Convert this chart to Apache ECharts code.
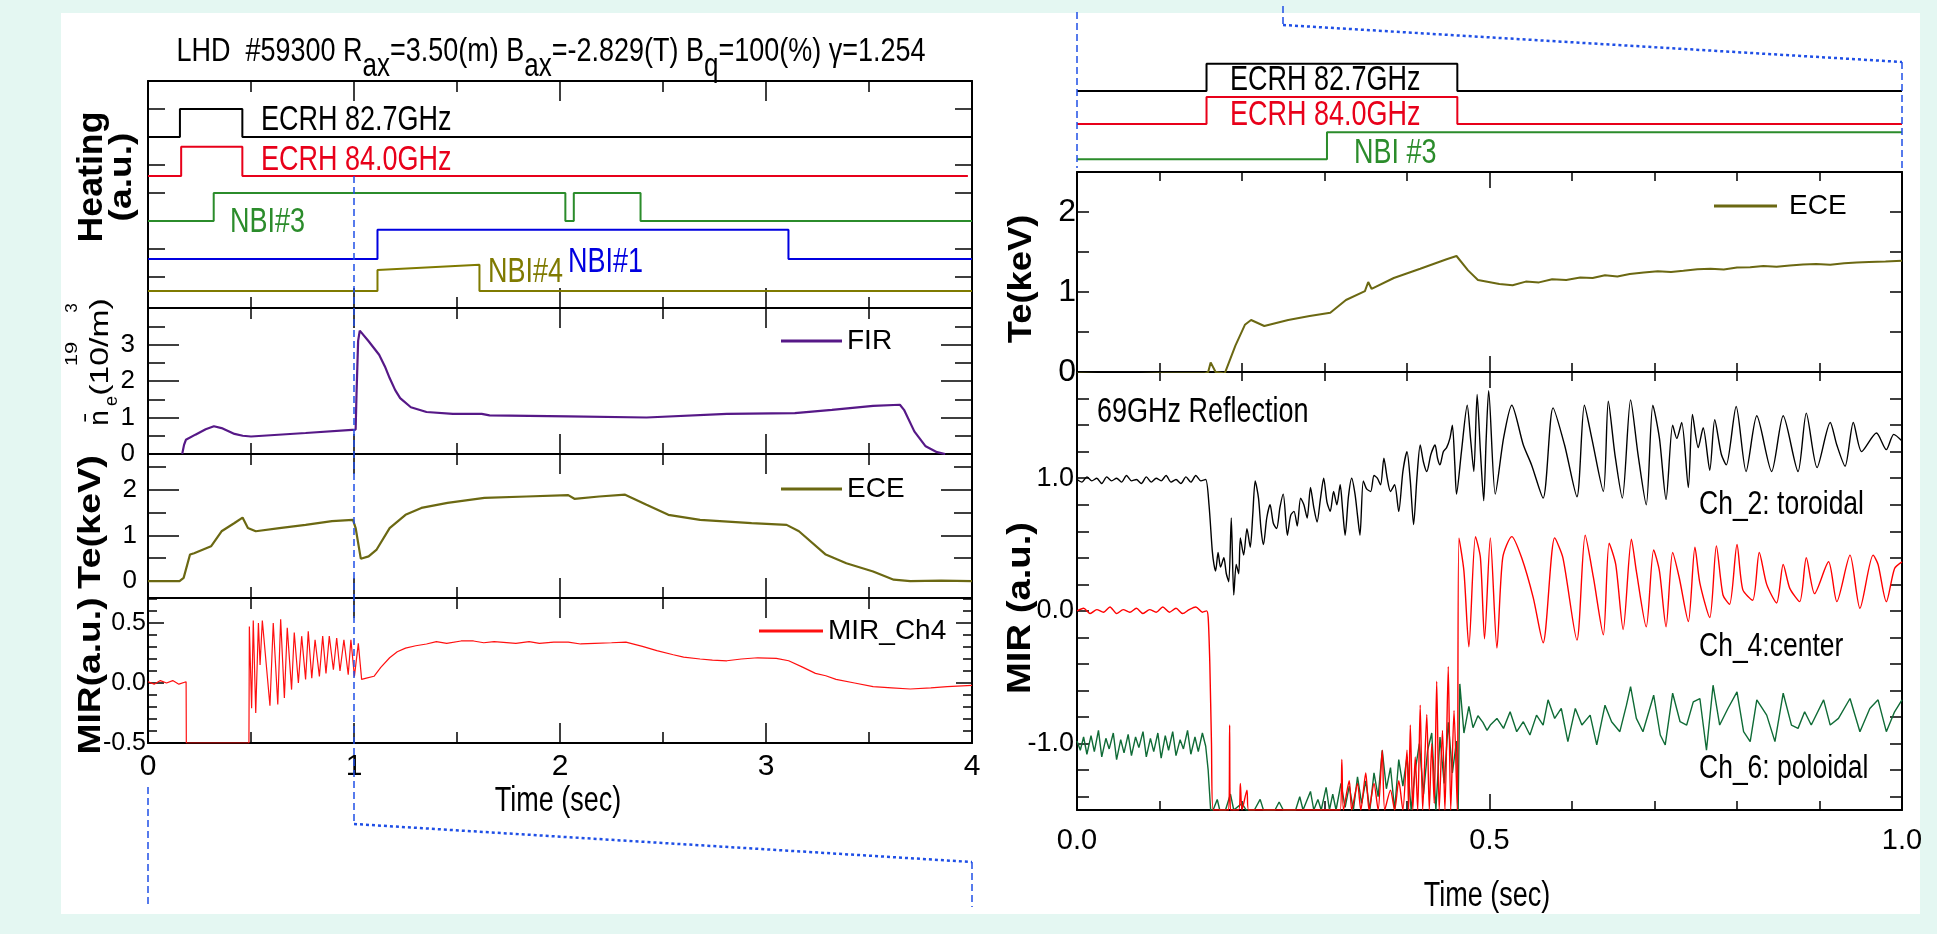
<!DOCTYPE html>
<html>
<head>
<meta charset="utf-8">
<title>LHD #59300</title>
<script src="https://cdn.jsdelivr.net/npm/echarts@6/dist/echarts.min.js"></script>
<style>
  html, body { margin: 0; padding: 0; background: #e4f7f2; }
  #chart { width: 1937px; height: 934px; }
</style>
</head>
<body>
<div id="chart"></div>
<script>
// ---- heating waveforms, left (t in s, level in a.u. offsets) ----
const ecrh827L = [[0, 6.0], [0.155, 6.0], [0.155, 7.0], [0.458, 7.0], [0.458, 6.0], [4, 6.0]]
const ecrh840L = [[0, 4.61], [0.161, 4.61], [0.161, 5.65], [0.458, 5.65], [0.458, 4.61], [3.98, 4.61]]
const nbi3L = [[0, 3.0], [0.319, 3.0], [0.319, 4.0], [2.026, 4.0], [2.026, 3.0], [2.067, 3.0], [2.067, 4.0], [2.391, 4.0], [2.391, 3.0], [4, 3.0]]
const nbi1L = [[0, 1.65], [1.114, 1.65], [1.114, 2.69], [3.109, 2.69], [3.109, 1.65], [4, 1.65]]
const nbi4L = [[0, 0.51], [1.114, 0.51], [1.114, 1.26], [1.609, 1.44], [1.609, 0.51], [4, 0.51]]

// ---- heating waveforms, right (zoomed 0..1 s) ----
const ecrh827R = [[0, 3.0], [0.157, 3.0], [0.157, 4.01], [0.461, 4.01], [0.461, 3.0], [1, 3.0]]
const ecrh840R = [[0, 1.78], [0.157, 1.78], [0.157, 2.78], [0.461, 2.78], [0.461, 1.78], [1, 1.78]]
const nbi3R = [[0, 0.47], [0.303, 0.47], [0.303, 1.47], [1, 1.47]]

// ---- line density FIR (10^19 m^-3) ----
const fir = [[0.166, 0], [0.175, 0.25], [0.184, 0.39], [0.23, 0.53], [0.28, 0.68], [0.32, 0.76], [0.357, 0.71],
  [0.42, 0.55], [0.46, 0.5], [0.5, 0.48], [0.765, 0.575], [1.008, 0.67], [1.012, 1.6], [1.02, 3.1], [1.028, 3.38],
  [1.071, 3.09], [1.122, 2.72], [1.15, 2.4], [1.173, 2.08], [1.2, 1.75], [1.224, 1.53], [1.276, 1.28], [1.352, 1.15],
  [1.48, 1.1], [1.62, 1.1], [1.658, 1.06], [2.04, 1.03], [2.42, 1.0], [2.81, 1.1], [3.14, 1.12], [3.32, 1.21],
  [3.52, 1.32], [3.65, 1.35], [3.67, 1.21], [3.72, 0.62], [3.775, 0.21], [3.83, 0.05], [3.87, 0]]

// ---- ECE Te (keV), full shot ----
const eceL = [[0, 0], [0.153, 0], [0.173, 0.07], [0.204, 0.58], [0.224, 0.61], [0.306, 0.76], [0.357, 1.09],
  [0.42, 1.27], [0.459, 1.39], [0.485, 1.16], [0.523, 1.09], [0.638, 1.16], [0.765, 1.23], [0.893, 1.31],
  [0.995, 1.34], [1.008, 1.16], [1.033, 0.49], [1.071, 0.54], [1.11, 0.69], [1.173, 1.16], [1.25, 1.45],
  [1.327, 1.6], [1.454, 1.71], [1.633, 1.82], [1.837, 1.85], [2.04, 1.88], [2.07, 1.8], [2.19, 1.85],
  [2.316, 1.89], [2.42, 1.67], [2.526, 1.45], [2.68, 1.34], [2.93, 1.27], [3.1, 1.23], [3.16, 1.09],
  [3.29, 0.58], [3.39, 0.39], [3.52, 0.21], [3.62, 0.03], [3.7, 0], [3.85, 0.01], [4, 0]]

// ---- MIR channel 4, full shot ----
const mirL = [[0, 0.01], [0.03, -0.01], [0.06, 0.02], [0.09, 0.0], [0.12, 0.02], [0.15, -0.01], [0.185, 0.01],
  [0.186, -0.5], [0.49, -0.5], [0.492, 0.47], [0.503, -0.21], [0.511, 0.52], [0.523, -0.25], [0.536, 0.5],
  [0.544, 0.15], [0.555, 0.52], [0.592, -0.19], [0.608, 0.5], [0.63, -0.18], [0.644, 0.53], [0.662, -0.125],
  [0.676, 0.46], [0.697, -0.055], [0.71, 0.42], [0.73, 0.0], [0.746, 0.39], [0.765, 0.03], [0.778, 0.43],
  [0.795, 0.04], [0.811, 0.36], [0.832, 0.055], [0.848, 0.39], [0.864, 0.08], [0.88, 0.39], [0.9, 0.11],
  [0.916, 0.375], [0.932, 0.1], [0.951, 0.36], [0.972, 0.07], [0.985, 0.36], [1.002, 0.055], [1.021, 0.33],
  [1.037, 0.03], [1.06, 0.04], [1.097, 0.056], [1.13, 0.13], [1.173, 0.21], [1.21, 0.26], [1.25, 0.29],
  [1.3, 0.31], [1.352, 0.325], [1.4, 0.345], [1.45, 0.33], [1.52, 0.35], [1.58, 0.35], [1.63, 0.335],
  [1.68, 0.345], [1.786, 0.33], [1.85, 0.345], [1.9, 0.33], [1.97, 0.34], [2.04, 0.34], [2.1, 0.325],
  [2.168, 0.33], [2.25, 0.335], [2.32, 0.34], [2.4, 0.305], [2.47, 0.27], [2.55, 0.235], [2.6, 0.215],
  [2.68, 0.2], [2.74, 0.19], [2.81, 0.185], [2.88, 0.2], [2.96, 0.21], [3.05, 0.205], [3.11, 0.185],
  [3.18, 0.13], [3.24, 0.08], [3.29, 0.06], [3.34, 0.03], [3.43, 0], [3.52, -0.03], [3.61, -0.04],
  [3.7, -0.05], [3.8, -0.04], [3.88, -0.03], [4, -0.02]]

// ---- zoomed ECE Te (keV), 0..1 s ----
const eceR = [[0, -0.02], [0.05, -0.03], [0.1, -0.02], [0.155, -0.02], [0.159, 0], [0.162, 0.12], [0.168, 0],
  [0.179, -0.02], [0.192, 0.33], [0.2035, 0.59], [0.211, 0.65], [0.227, 0.575], [0.256, 0.65], [0.282, 0.7],
  [0.307, 0.74], [0.326, 0.9], [0.349, 1.01], [0.353, 1.125], [0.357, 1.04], [0.384, 1.175], [0.416, 1.29],
  [0.448, 1.41], [0.46, 1.45], [0.474, 1.27], [0.486, 1.15], [0.512, 1.1], [0.528, 1.085], [0.544, 1.13],
  [0.56, 1.12], [0.576, 1.16], [0.593, 1.15], [0.61, 1.18], [0.625, 1.175], [0.64, 1.21], [0.655, 1.195],
  [0.67, 1.225], [0.687, 1.245], [0.704, 1.26], [0.72, 1.25], [0.735, 1.265], [0.752, 1.285], [0.768, 1.29],
  [0.784, 1.28], [0.8, 1.305], [0.816, 1.31], [0.832, 1.325], [0.848, 1.315], [0.864, 1.33], [0.88, 1.345],
  [0.896, 1.35], [0.913, 1.34], [0.93, 1.36], [0.945, 1.37], [0.96, 1.375], [0.98, 1.38], [1.0, 1.39]]

// ---- 69 GHz reflectometer, Ch_2 toroidal ----
const ch2 = [[0, 0.99], [0.006, 0.97], [0.012, 1.01], [0.018, 0.98], [0.024, 1.0], [0.03, 0.96], [0.036, 1.01],
  [0.042, 0.98], [0.048, 1.0], [0.054, 0.97], [0.06, 1.02], [0.066, 0.98], [0.072, 0.99], [0.078, 0.96],
  [0.084, 1.01], [0.09, 0.97], [0.096, 1.0], [0.102, 0.98], [0.108, 1.02], [0.114, 0.97], [0.12, 0.99],
  [0.126, 0.96], [0.132, 1.01], [0.138, 0.97], [0.144, 1.02], [0.15, 0.98], [0.156, 0.99],
  [0.16, 0.8], [0.164, 0.45], [0.166, 0.35], [0.168, 0.3], [0.171, 0.44], [0.174, 0.33], [0.178, 0.4],
  [0.181, 0.28], [0.184, 0.22], [0.187, 0.7], [0.19, 0.12], [0.193, 0.35], [0.196, 0.28], [0.198, 0.55],
  [0.202, 0.42], [0.206, 0.62], [0.21, 0.48], [0.213, 0.72], [0.216, 0.98], [0.22, 0.85], [0.223, 0.62],
  [0.226, 0.5], [0.23, 0.7], [0.234, 0.8], [0.238, 0.66], [0.242, 0.62], [0.246, 0.78], [0.25, 0.88],
  [0.255, 0.57], [0.259, 0.72], [0.263, 0.75], [0.267, 0.64], [0.271, 0.85], [0.275, 0.8], [0.279, 0.7],
  [0.283, 0.93], [0.287, 0.78], [0.291, 0.67], [0.295, 0.84], [0.299, 1.0], [0.303, 0.82], [0.307, 0.75],
  [0.311, 0.9], [0.315, 0.8], [0.319, 0.95], [0.322, 0.76], [0.325, 0.57], [0.329, 0.86], [0.333, 1.0],
  [0.337, 0.88], [0.34, 0.72], [0.343, 0.57], [0.347, 0.98], [0.351, 0.92], [0.356, 0.9], [0.36, 1.02],
  [0.364, 1.0], [0.368, 0.95], [0.372, 1.15], [0.376, 1.0], [0.38, 0.9], [0.385, 0.95], [0.39, 0.75],
  [0.395, 1.05], [0.4, 1.2], [0.404, 0.98], [0.408, 0.65], [0.412, 1.0], [0.416, 1.25], [0.42, 1.12],
  [0.424, 1.05], [0.429, 1.18], [0.434, 1.25], [0.437, 1.15], [0.44, 1.1], [0.444, 1.2], [0.448, 1.23],
  [0.452, 1.3], [0.455, 1.4], [0.458, 1.1], [0.46, 0.88], [0.466, 1.2], [0.473, 1.55], [0.477, 1.3],
  [0.481, 1.05], [0.485, 1.63], [0.489, 1.2], [0.493, 0.83], [0.496, 1.3], [0.499, 1.66],
  [0.507, 0.88], [0.517, 1.3], [0.527, 1.55], [0.541, 1.25], [0.551, 1.1], [0.565, 0.85], [0.577, 1.53],
  [0.591, 1.25], [0.606, 0.86], [0.615, 1.55], [0.624, 1.3], [0.638, 0.9], [0.644, 1.58], [0.652, 1.18],
  [0.661, 0.85], [0.671, 1.59], [0.68, 1.18], [0.69, 0.8], [0.698, 1.55], [0.706, 1.3], [0.714, 0.84],
  [0.722, 1.4], [0.727, 1.3], [0.733, 1.42], [0.741, 0.93], [0.746, 1.48], [0.753, 1.23], [0.759, 1.38],
  [0.767, 1.06], [0.773, 1.44], [0.781, 1.18], [0.787, 1.1], [0.799, 1.54], [0.811, 1.05], [0.824, 1.47],
  [0.842, 1.05], [0.856, 1.47], [0.874, 1.05], [0.884, 1.49], [0.897, 1.08], [0.913, 1.42], [0.921, 1.25],
  [0.931, 1.09], [0.941, 1.42], [0.951, 1.2], [0.969, 1.34], [0.981, 1.215], [0.99, 1.33], [1.0, 1.28]]

// ---- Ch_4 center ----
const ch4 = [[0, 0.0], [0.008, 0.02], [0.016, -0.02], [0.024, 0.01], [0.032, -0.01], [0.04, 0.03], [0.048, -0.02],
  [0.056, 0.01], [0.064, -0.01], [0.072, 0.02], [0.08, -0.02], [0.088, 0.01], [0.096, -0.01], [0.104, 0.03],
  [0.112, -0.01], [0.12, 0.02], [0.128, -0.02], [0.136, 0.01], [0.144, 0.03], [0.152, -0.01], [0.157, 0.0],
  [0.159, -0.05], [0.161, -0.4], [0.163, -1.0], [0.165, -1.5], [0.184, -1.5], [0.185, -0.86], [0.186, -1.5],
  [0.196, -1.5], [0.198, -1.3], [0.2, -1.5], [0.206, -1.35], [0.208, -1.5], [0.319, -1.5], [0.321, -1.12],
  [0.323, -1.5], [0.33, -1.28], [0.333, -1.5], [0.34, -1.3], [0.344, -1.5], [0.35, -1.22], [0.354, -1.5],
  [0.36, -1.3], [0.365, -1.5], [0.37, -1.05], [0.373, -1.5], [0.38, -1.35], [0.385, -1.5], [0.39, -1.28],
  [0.395, -1.5], [0.4, -1.05], [0.402, -1.5], [0.404, -0.86], [0.407, -1.5], [0.41, -1.1], [0.413, -1.5],
  [0.416, -0.71], [0.419, -1.5], [0.424, -0.78], [0.427, -1.5], [0.43, -1.0], [0.433, -1.45], [0.436, -0.53],
  [0.439, -1.5], [0.443, -0.9], [0.446, -1.5], [0.45, -0.42], [0.453, -1.5], [0.457, -0.75], [0.461, -1.5],
  [0.463, 0.55], [0.469, 0.3], [0.475, -0.27], [0.483, 0.56], [0.489, 0.4], [0.494, -0.21], [0.501, 0.55],
  [0.509, -0.28], [0.516, 0.4], [0.527, 0.56], [0.539, 0.4], [0.553, 0.1], [0.565, -0.24], [0.579, 0.55],
  [0.589, 0.4], [0.606, -0.22], [0.616, 0.57], [0.626, 0.25], [0.638, -0.18], [0.645, 0.51], [0.653, 0.35],
  [0.662, -0.14], [0.672, 0.54], [0.678, 0.3], [0.69, -0.12], [0.699, 0.46], [0.706, 0.3], [0.714, -0.12],
  [0.722, 0.44], [0.73, 0.25], [0.741, -0.08], [0.749, 0.48], [0.755, 0.21], [0.767, -0.05], [0.775, 0.49],
  [0.783, 0.12], [0.791, 0.05], [0.8, 0.5], [0.807, 0.16], [0.819, 0.08], [0.827, 0.44], [0.836, 0.2],
  [0.848, 0.06], [0.856, 0.35], [0.864, 0.17], [0.876, 0.07], [0.884, 0.4], [0.894, 0.13], [0.911, 0.37],
  [0.921, 0.07], [0.937, 0.42], [0.949, 0.02], [0.965, 0.42], [0.971, 0.35], [0.981, 0.07], [0.991, 0.32],
  [1.0, 0.37]]

// ---- Ch_6 poloidal ----
const ch6 = [[0, -0.98], [0.004, -1.05], [0.008, -0.95], [0.012, -1.08], [0.017, -0.94], [0.021, -1.06],
  [0.026, -0.9], [0.03, -1.1], [0.035, -0.96], [0.039, -1.04], [0.044, -0.92], [0.048, -1.12], [0.053, -0.97],
  [0.057, -1.07], [0.062, -0.93], [0.066, -1.09], [0.071, -0.95], [0.075, -1.03], [0.08, -0.91], [0.084, -1.1],
  [0.089, -0.96], [0.093, -1.06], [0.098, -0.92], [0.102, -1.11], [0.107, -0.94], [0.111, -1.05], [0.116, -0.91],
  [0.12, -1.09], [0.125, -0.97], [0.129, -1.04], [0.134, -0.9], [0.138, -1.08], [0.143, -0.95], [0.147, -1.06],
  [0.152, -0.92], [0.156, -1.02], [0.159, -1.2], [0.162, -1.5], [0.165, -1.5], [0.17, -1.42], [0.173, -1.5],
  [0.18, -1.5], [0.186, -1.38], [0.19, -1.5], [0.2, -1.45], [0.205, -1.5], [0.215, -1.5], [0.222, -1.42],
  [0.226, -1.5], [0.24, -1.5], [0.245, -1.44], [0.25, -1.5], [0.265, -1.5], [0.27, -1.4], [0.274, -1.5],
  [0.283, -1.36], [0.287, -1.5], [0.292, -1.42], [0.296, -1.5], [0.302, -1.33], [0.306, -1.5], [0.31, -1.38],
  [0.314, -1.5], [0.32, -1.3], [0.325, -1.48], [0.33, -1.32], [0.335, -1.5], [0.34, -1.25], [0.345, -1.45],
  [0.35, -1.28], [0.355, -1.5], [0.36, -1.22], [0.365, -1.4], [0.37, -1.05], [0.375, -1.34], [0.38, -1.18],
  [0.385, -1.5], [0.39, -1.12], [0.395, -1.32], [0.4, -1.1], [0.405, -1.5], [0.41, -1.2], [0.415, -1.0],
  [0.42, -1.38], [0.425, -1.05], [0.43, -0.92], [0.435, -1.5], [0.44, -0.95], [0.445, -1.3], [0.45, -0.84],
  [0.455, -1.22], [0.46, -0.98], [0.462, -1.5], [0.464, -0.55], [0.469, -0.92], [0.475, -0.72], [0.48, -0.88],
  [0.486, -0.79], [0.492, -0.84], [0.497, -0.9], [0.501, -0.86], [0.509, -0.81], [0.517, -0.885], [0.525, -0.76],
  [0.533, -0.91], [0.541, -0.835], [0.549, -0.935], [0.557, -0.785], [0.565, -0.86], [0.571, -0.67],
  [0.579, -0.81], [0.587, -0.735], [0.595, -0.985], [0.604, -0.735], [0.612, -0.86], [0.622, -0.785],
  [0.63, -1.01], [0.64, -0.71], [0.648, -0.835], [0.658, -0.91], [0.666, -0.71], [0.671, -0.57], [0.678, -0.81],
  [0.686, -0.91], [0.699, -0.635], [0.707, -0.935], [0.713, -1.01], [0.722, -0.62], [0.731, -0.835],
  [0.739, -0.86], [0.747, -0.685], [0.755, -0.66], [0.763, -1.05], [0.771, -0.56], [0.779, -0.86],
  [0.789, -0.735], [0.8, -0.61], [0.808, -0.91], [0.816, -0.985], [0.824, -0.67], [0.836, -0.785],
  [0.846, -0.985], [0.856, -0.62], [0.866, -0.86], [0.874, -0.885], [0.882, -0.76], [0.89, -0.86],
  [0.905, -0.67], [0.913, -0.86], [0.923, -0.81], [0.937, -0.66], [0.949, -0.91], [0.961, -0.735],
  [0.971, -0.67], [0.981, -0.91], [0.991, -0.76], [1.0, -0.67]]

// ---- tick values ----
const heatTicks = [1, 2, 3, 4, 5, 6, 7]
const firMajor = [0, 1, 2, 3]
const firMinor = [0.5, 1.5, 2.5, 3.5]
const eceLMajor = [0, 1, 2]
const eceLMinor = [0.5, 1.5, 2.5]
const mirLMajor = [-0.5, 0, 0.5]
const mirLMinor = [-0.4, -0.3, -0.2, -0.1, 0.1, 0.2, 0.3, 0.4, 0.6, 0.7]
const eceRTicks = [0.5, 1, 1.5, 2]
const eceRLabels = [0, 1, 2]
const mirRTicks = [-1.4, -1.2, -1.0, -0.8, -0.6, -0.4, -0.2, 0, 0.2, 0.4, 0.6, 0.8, 1.0, 1.2, 1.4, 1.6]
const mirRLabels = [-1, 0, 1]

const SANS = '"Liberation Sans",Arial,Helvetica,sans-serif'
const BLUE = '#1f4fe6'
const STRETCH = 1.28 // the original lettering is vertically stretched

const chart = echarts.init(document.getElementById('chart'))

const grids = [
  { left: 148, top: 81, width: 824, height: 227 },   // 0 heating
  { left: 148, top: 308, width: 824, height: 146 },  // 1 FIR
  { left: 148, top: 454, width: 824, height: 144 },  // 2 ECE
  { left: 148, top: 598, width: 824, height: 145 },  // 3 MIR
  { left: 1077, top: 36, width: 825, height: 136 },  // 4 heating zoom
  { left: 1077, top: 172, width: 825, height: 200 }, // 5 ECE zoom
  { left: 1077, top: 372, width: 825, height: 438 }  // 6 MIR zoom
]

const xAxes = []
const yAxes = []
const tickStyle = { color: '#000', width: 1.5 }

function addX(gi, pos, o) {
  xAxes.push({
    type: 'value', gridIndex: gi, position: pos, min: o.min, max: o.max, interval: o.interval,
    show: o.show !== false,
    axisLine: { show: true, onZero: false, lineStyle: { color: '#000', width: 2 } },
    axisTick: { show: true, inside: true, length: o.tick, lineStyle: tickStyle },
    minorTick: { show: true, splitNumber: o.split, length: o.minor, lineStyle: tickStyle },
    splitLine: { show: false },
    axisLabel: o.label ? Object.assign({ show: true, color: '#000', fontFamily: SANS, showMinLabel: true, showMaxLabel: true }, o.label) : { show: false }
  })
  return xAxes.length - 1
}

function addY(gi, pos, o) {
  yAxes.push({
    type: 'value', gridIndex: gi, position: pos, min: o.min, max: o.max,
    show: o.show !== false,
    axisLine: { show: o.line !== false, onZero: false, lineStyle: { color: '#000', width: 2 } },
    axisTick: { show: !!o.ticks, inside: true, length: o.tick, customValues: o.ticks, lineStyle: tickStyle },
    splitLine: { show: false },
    axisLabel: o.labels ? Object.assign({ show: true, color: '#000', fontFamily: SANS, customValues: o.labels }, o.label) : { show: false }
  })
  return yAxes.length - 1
}

// left column x axes
const lx = { min: 0, max: 4, interval: 1, tick: 20, split: 2, minor: 11 }
const xHeat = addX(0, 'bottom', lx); addX(0, 'top', lx)
const xFir = addX(1, 'bottom', lx); addX(1, 'top', lx)
const xEceL = addX(2, 'bottom', lx); addX(2, 'top', lx)
const xMirL = addX(3, 'bottom', Object.assign({}, lx, { label: { fontSize: 30, margin: 9 } })); addX(3, 'top', lx)
// right column x axes
const xHeatR = addX(4, 'bottom', { min: 0, max: 1, interval: 0.5, show: false })
const rx = { min: 0, max: 1, interval: 0.5, tick: 16, split: 5, minor: 9 }
const xEceR = addX(5, 'bottom', rx); addX(5, 'top', rx)
const xMirR = addX(6, 'bottom', Object.assign({}, rx, { label: { fontSize: 29, margin: 16, formatter: v => v.toFixed(1) } })); addX(6, 'top', rx)

// left column y axes
const yHeat = addY(0, 'left', { min: -0.1, max: 8.0, ticks: heatTicks, tick: 17 })
addY(0, 'right', { min: -0.1, max: 8.0, ticks: heatTicks, tick: 17 })

const yFir = addY(1, 'left', { min: 0, max: 4, ticks: firMajor, tick: 31, labels: firMajor, label: { fontSize: 26, margin: 13 } })
addY(1, 'left', { min: 0, max: 4, ticks: firMinor, tick: 17, line: false })
addY(1, 'right', { min: 0, max: 4, ticks: firMajor, tick: 31 })
addY(1, 'right', { min: 0, max: 4, ticks: firMinor, tick: 17, line: false })

const yEceL = addY(2, 'left', { min: -0.37, max: 2.78, ticks: eceLMajor, tick: 31, labels: eceLMajor, label: { fontSize: 26, margin: 11 } })
addY(2, 'left', { min: -0.37, max: 2.78, ticks: eceLMinor, tick: 18, line: false })
addY(2, 'right', { min: -0.37, max: 2.78, ticks: eceLMajor, tick: 31 })
addY(2, 'right', { min: -0.37, max: 2.78, ticks: eceLMinor, tick: 18, line: false })

const yMirL = addY(3, 'left', { min: -0.5, max: 0.708, ticks: mirLMajor, tick: 16, labels: mirLMajor, label: { fontSize: 25, margin: 2, formatter: v => v.toFixed(1) } })
addY(3, 'left', { min: -0.5, max: 0.708, ticks: mirLMinor, tick: 9, line: false })
addY(3, 'right', { min: -0.5, max: 0.708, ticks: mirLMajor, tick: 16 })
addY(3, 'right', { min: -0.5, max: 0.708, ticks: mirLMinor, tick: 9, line: false })

// right column y axes
const yHeatR = addY(4, 'left', { min: 0, max: 5.04, show: false })
const yEceR = addY(5, 'left', { min: 0, max: 2.5, ticks: eceRTicks, tick: 12, labels: eceRLabels, label: { fontSize: 32, margin: 1 } })
addY(5, 'right', { min: 0, max: 2.5, ticks: eceRTicks, tick: 12 })
const yMirR = addY(6, 'left', { min: -1.5, max: 1.8, ticks: mirRTicks, tick: 12, labels: mirRLabels, label: { fontSize: 27, margin: 3, formatter: v => v.toFixed(1) } })
addY(6, 'right', { min: -1.5, max: 1.8, ticks: mirRTicks, tick: 12 })

function line(name, data, xi, yi, color, width, smooth) {
  return {
    name, type: 'line', data, xAxisIndex: xi, yAxisIndex: yi, smooth: smooth || false,
    symbol: 'none', showSymbol: false, silent: true, animation: false,
    lineStyle: { color, width }, itemStyle: { color }
  }
}

const series = [
  line('ECRH 82.7GHz', ecrh827L, xHeat, yHeat, '#000', 2),
  line('ECRH 84.0GHz', ecrh840L, xHeat, yHeat, '#e8001a', 2),
  line('NBI#3', nbi3L, xHeat, yHeat, '#2b8c2b', 2),
  line('NBI#1', nbi1L, xHeat, yHeat, '#0000e0', 2),
  line('NBI#4', nbi4L, xHeat, yHeat, '#7f7a00', 2),
  line('FIR', fir, xFir, yFir, '#561887', 2.2),
  line('ECE', eceL, xEceL, yEceL, '#6b6812', 2.2),
  line('MIR_Ch4', mirL, xMirL, yMirL, '#ff1010', 1.2),
  line('ECRH 82.7GHz R', ecrh827R, xHeatR, yHeatR, '#000', 2),
  line('ECRH 84.0GHz R', ecrh840R, xHeatR, yHeatR, '#e8001a', 2),
  line('NBI #3 R', nbi3R, xHeatR, yHeatR, '#2b8c2b', 2),
  line('ECE', eceR, xEceR, yEceR, '#6b6812', 2),
  line('Ch_2', ch2, xMirR, yMirR, '#000', 1.4, 0.25),
  line('Ch_6', ch6, xMirR, yMirR, '#0f6b36', 1.4),
  line('Ch_4', ch4, xMirR, yMirR, '#ff0000', 1.4, 0.25)
]

const legendBase = {
  orient: 'horizontal', padding: 0, selectedMode: false, icon: 'rect', itemHeight: 3,
  textStyle: { fontFamily: SANS, fontSize: 28, color: '#000' }
}
const legends = [
  Object.assign({}, legendBase, { left: 781, top: 327, itemWidth: 61, data: ['FIR'] }),
  Object.assign({}, legendBase, { left: 781, top: 475, itemWidth: 61, data: ['ECE'] }),
  Object.assign({}, legendBase, { left: 759, top: 617, itemWidth: 64, data: ['MIR_Ch4'] }),
  Object.assign({}, legendBase, { left: 1714, top: 192, itemWidth: 63, data: ['ECE'], textStyle: { fontFamily: SANS, fontSize: 28, color: '#000', padding: [0, 0, 0, 7] } })
]

function txt(text, x, y, o) {
  o = o || {}
  const rotated = !!o.rot
  return {
    type: 'text', x, y, z: 100, rotation: o.rot || 0, silent: true,
    scaleX: o.sx || 1, scaleY: o.sy || (rotated ? 1 : STRETCH),
    style: {
      text, fill: o.color || '#000', fontSize: o.size || 27, fontFamily: SANS,
      fontWeight: o.weight || 'normal', align: o.align || 'left', verticalAlign: 'middle'
    }
  }
}
function dash(points, dotted) {
  return {
    type: 'polyline', z: 100, silent: true, shape: { points },
    style: { stroke: BLUE, fill: null, lineWidth: dotted ? 2.5 : 1.5, lineDash: dotted ? [3, 3] : [7, 4] }
  }
}
const R = Math.PI / 2

const graphic = [
  { type: 'rect', z: -10, silent: true, shape: { x: 61, y: 13, width: 1859, height: 901 }, style: { fill: '#fff' } },
  {
    type: 'text', x: 551, y: 35, z: 100, silent: true, scaleY: 1.25,
    style: {
      text: '{m|LHD  #59300 R}{s|ax}{m|=3.50(m) B}{s|ax}{m|=-2.829(T) B}{s|q}{m|=100(%) γ=1.254}',
      align: 'center', verticalAlign: 'top', fill: '#000',
      rich: {
        m: { fontFamily: SANS, fontSize: 27, lineHeight: 32, verticalAlign: 'top', fill: '#000' },
        s: { fontFamily: SANS, fontSize: 26, lineHeight: 28, verticalAlign: 'top', padding: [13, 0, 0, 0], fill: '#000' }
      }
    }
  },
  // heating labels
  txt('ECRH 82.7GHz', 261, 120),
  txt('ECRH 84.0GHz', 261, 160, { color: '#e8001a' }),
  txt('NBI#3', 230, 222, { color: '#2b8c2b' }),
  txt('NBI#4', 488, 272, { color: '#7f7a00' }),
  txt('NBI#1', 568, 262, { color: '#0000e0' }),
  txt('ECRH 82.7GHz', 1230, 80),
  txt('ECRH 84.0GHz', 1230, 115, { color: '#e8001a' }),
  txt('NBI #3', 1354, 153, { color: '#2b8c2b' }),
  // reflectometer labels
  txt('69GHz Reflection', 1097, 412),
  txt('Ch_2: toroidal', 1699, 505, { size: 26.5 }),
  txt('Ch_4:center', 1699, 647, { size: 26.5 }),
  txt('Ch_6: poloidal', 1699, 769, { size: 26.5 }),
  // axis titles
  txt('Time (sec)', 558, 801, { align: 'center' }),
  txt('Time (sec)', 1487, 896, { align: 'center' }),
  txt('Heating', 92, 177, { rot: R, size: 35, weight: 'bold', align: 'center', sx: 1.02 }),
  txt('(a.u.)', 122, 177, { rot: R, size: 31, weight: 'bold', align: 'center', sx: 1.2 }),
  txt('(10/m)', 101, 347, { rot: R, size: 25, align: 'center', sx: 1.35 }),
  txt('n\u0304', 100, 418, { rot: R, size: 28, align: 'center' }),
  txt('e', 112, 401, { rot: R, size: 18, align: 'center' }),
  txt('19', 72, 354, { rot: R, size: 17, align: 'center', sx: 1.3 }),
  txt('3', 72, 308, { rot: R, size: 17, align: 'center' }),
  txt('Te(keV)', 91, 522, { rot: R, size: 31, weight: 'bold', align: 'center', sx: 1.22 }),
  txt('MIR(a.u.)', 91, 676, { rot: R, size: 31, weight: 'bold', align: 'center', sx: 1.2 }),
  txt('Te(keV)', 1022, 279, { rot: R, size: 33, weight: 'bold', align: 'center', sx: 1.1 }),
  txt('MIR (a.u.)', 1021, 608, { rot: R, size: 33, weight: 'bold', align: 'center', sx: 1.16 }),
  // zoom guide lines
  dash([[148, 787], [148, 907]]),
  dash([[354, 176], [354, 824]]),
  dash([[354, 824], [972, 862]], true),
  dash([[972, 862], [972, 907]]),
  dash([[1077, 12], [1077, 168]]),
  dash([[1283, 6], [1283, 25]]),
  dash([[1283, 25], [1902, 62]], true),
  dash([[1902, 62], [1902, 168]])
]

chart.setOption({
  backgroundColor: '#e4f7f2',
  animation: false,
  grid: grids,
  xAxis: xAxes,
  yAxis: yAxes,
  legend: legends,
  series,
  graphic
})
</script>
</body>
</html>
